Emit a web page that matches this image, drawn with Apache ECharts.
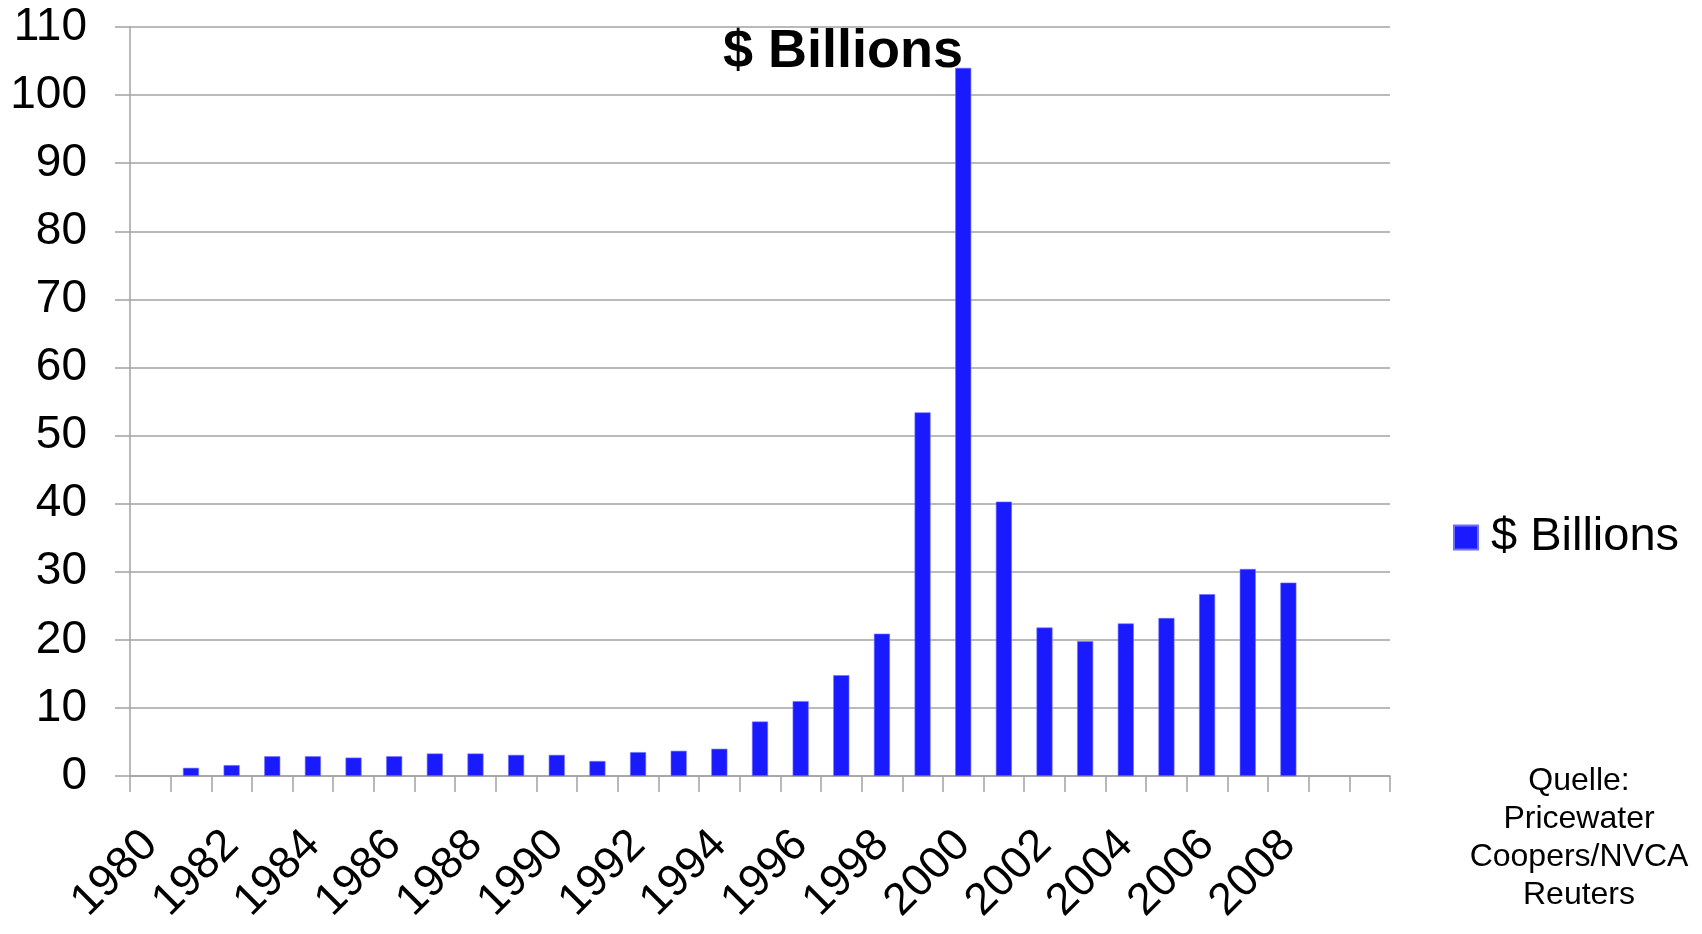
<!DOCTYPE html>
<html>
<head>
<meta charset="utf-8">
<title>$ Billions</title>
<script src="https://cdn.jsdelivr.net/npm/echarts@6/dist/echarts.min.js"></script>
<style>
  html, body { margin: 0; padding: 0; background: #ffffff; }
  #chart { width: 1702px; height: 934px; }
</style>
</head>
<body>
<div id="chart"></div>
<script>
// Venture capital investment per year, in billions of US dollars
const years = ['1980', '1981', '1982', '1983', '1984', '1985', '1986', '1987', '1988', '1989',
               '1990', '1991', '1992', '1993', '1994', '1995', '1996', '1997', '1998', '1999',
               '2000', '2001', '2002', '2003', '2004', '2005', '2006', '2007', '2008', '', ''];
const billions = [null, 1.2, 1.6, 2.9, 2.9, 2.7, 2.9, 3.3, 3.3, 3.1,
                  3.1, 2.2, 3.5, 3.7, 4.0, 8.0, 11.0, 14.8, 20.9, 53.4,
                  104.0, 40.3, 21.8, 19.8, 22.4, 23.2, 26.7, 30.4, 28.4, null, null];
const yTicks = { min: 0, max: 110, step: 10 };
const seriesName = '$ Billions';
const sourceLines = ['Quelle:', 'Pricewater', 'Coopers/NVCA', 'Reuters'];

const FONT = '"Liberation Sans", Arial, sans-serif';
const GREY = '#a3a3a3';
const BLUE = '#1a1aff';

const chart = echarts.init(document.getElementById('chart'), null, { renderer: 'canvas' });

chart.setOption({
  animation: false,
  backgroundColor: '#ffffff',
  grid: { left: 130, right: 312, top: 27, bottom: 158, containLabel: false },
  legend: {
    data: [seriesName],
    left: 1453,
    top: 514,
    padding: 0,
    icon: 'rect',
    itemWidth: 24,
    itemHeight: 24,
    textStyle: { fontFamily: FONT, fontSize: 47, color: '#000', padding: [0, 0, 0, 8] }
  },
  xAxis: {
    type: 'category',
    data: years,
    boundaryGap: true,
    axisLine: { lineStyle: { color: GREY, width: 1.5 } },
    axisTick: { show: true, interval: 0, length: 16, lineStyle: { color: GREY, width: 1.5 } },
    axisLabel: {
      interval: 1,
      rotate: 45,
      margin: 62,
      fontFamily: FONT,
      fontSize: 45,
      color: '#000'
    },
    splitLine: { show: false }
  },
  yAxis: {
    type: 'value',
    min: yTicks.min,
    max: yTicks.max,
    interval: yTicks.step,
    axisLine: { show: true, lineStyle: { color: GREY, width: 1.5 } },
    axisTick: { show: true, length: 15, lineStyle: { color: GREY, width: 1.5 } },
    axisLabel: { margin: 43, fontFamily: FONT, fontSize: 46, color: '#000' },
    splitLine: { show: true, lineStyle: { color: GREY, width: 1.5 } }
  },
  series: [{
    name: seriesName,
    type: 'bar',
    data: billions,
    barWidth: 16,
    itemStyle: { color: BLUE, borderColor: '#6f6fff', borderWidth: 0.6 }
  }],
  graphic: [
    {
      type: 'text',
      x: 843,
      y: 52,
      style: {
        text: seriesName,
        fontFamily: FONT,
        fontWeight: 'bold',
        fontSize: 54,
        fill: '#000',
        textAlign: 'center',
        textVerticalAlign: 'middle'
      }
    },
    {
      type: 'text',
      x: 1579,
      y: 762,
      style: {
        text: sourceLines.join('\n'),
        fontFamily: FONT,
        fontSize: 32,
        lineHeight: 38,
        fill: '#000',
        textAlign: 'center',
        textVerticalAlign: 'top'
      }
    }
  ]
});
</script>
</body>
</html>
